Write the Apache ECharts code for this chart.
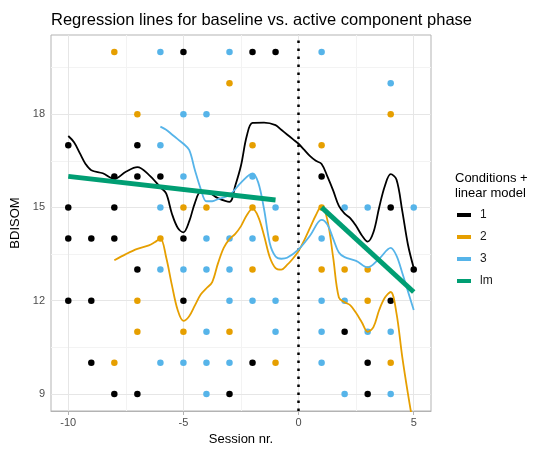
<!DOCTYPE html>
<html>
<head>
<meta charset="utf-8">
<script src="https://cdn.jsdelivr.net/npm/echarts@6/dist/echarts.min.js"></script>
<style>html,body{margin:0;padding:0;background:#fff}#c{width:540px;height:451px}</style>
</head>
<body>
<div id="c"></div>
<script>
// ---- data ----
const titleText = 'Regression lines for baseline vs. active component phase';
const xTicks = [-10, -5, 0, 5];
const yTicks = [9, 12, 15, 18];
const xMinorGrid = [-7.5, -2.5, 2.5];
const yMinorGrid = [10.5, 13.5, 16.5, 19.5];
const conditions = ['1', '2', '3'];

// observed points [session, BDISOM]
const points1 = [[-5,20],[-2,20],[-1,20],[-10,17],[-7,17],[-8,16],[-7,16],[-6,16],[1,16],
  [-10,15],[-8,15],[4,15],[-10,14],[-9,14],[-8,14],[-5,14],[-7,13],[5,13],
  [-10,12],[-9,12],[-5,12],[4,12],[2,11],[-9,10],[-2,10],[3,10],[-8,9],[-7,9],[-3,9],[3,9]];
const points2 = [[-8,20],[-3,19],[-7,18],[4,18],[-2,17],[1,17],[-5,15],[-4,15],[-2,15],[1,15],
  [-6,14],[-1,14],[-2,13],[1,13],[2,13],[3,13],[-7,12],[3,12],[-7,11],[-5,11],[-3,11],
  [-8,10],[-1,10],[4,10]];
const points3 = [[-6,20],[-3,20],[1,20],[4,19],[-5,18],[-4,18],[-6,17],[-5,16],[-2,16],
  [-6,15],[-1,15],[2,15],[3,15],[5,15],[-4,14],[-3,14],[-2,14],[1,14],
  [-6,13],[-5,13],[-4,13],[-3,13],[-3,12],[-2,12],[-1,12],[1,12],[2,12],
  [-4,11],[-1,11],[1,11],[3,11],[4,11],[-6,10],[-5,10],[-4,10],[-3,10],[1,10],
  [-4,9],[2,9],[4,9]];

// smoothed curves [session, fitted]
const smooth1 = [[-10,17.3],[-9.75,17.1],[-9.5,16.75],[-9.25,16.4],[-9,16.2],[-8.5,16.1],[-8,15.92],
  [-7.5,16.15],[-7,16.3],[-6.5,16.05],[-6,15.65],[-5.75,15.45],[-5.5,14.8],[-5.25,14.35],[-5,14.2],
  [-4.75,14.55],[-4.5,15.15],[-4.25,15.5],[-4,15.5],[-3.5,15.3],[-3,15.18],[-2.75,15.7],[-2.5,16.35],
  [-2.25,17.3],[-2,17.72],[-1.5,17.73],[-1,17.65],[-0.75,17.5],[-0.5,17.35],[-0.25,17.2],[0,17.05],
  [0.25,16.85],[0.5,16.65],[0.75,16.5],[1,16.4],[1.25,16.0],[1.5,15.55],[1.75,15.05],[2,14.8],
  [2.25,14.65],[2.5,14.4],[2.75,14.1],[3,13.9],[3.25,14.2],[3.5,15.0],[3.75,15.7],[4,16.07],
  [4.25,15.9],[4.5,14.9],[4.75,13.8],[5,13.05]];
const smooth2 = [[-8,13.3],[-7.5,13.5],[-7,13.67],[-6.5,13.78],[-6.25,13.88],[-6,14.0],[-5.75,13.4],
  [-5.5,12.5],[-5.25,11.7],[-5,11.35],[-4.75,11.5],[-4.5,11.85],[-4.25,12.2],[-4,12.4],[-3.75,12.6],
  [-3.5,13.2],[-3.25,13.7],[-3,13.98],[-2.75,14.15],[-2.5,14.4],[-2.25,14.75],[-2,14.96],[-1.75,14.7],
  [-1.5,14.1],[-1.25,13.4],[-1,13.05],[-0.75,13.0],[-0.5,13.15],[-0.25,13.35],[0,13.6],[0.25,13.95],
  [0.5,14.35],[0.75,14.75],[1,15.05],[1.25,14.6],[1.5,13.4],[1.75,12.1],[2,11.95],[2.25,11.85],
  [2.5,11.6],[2.75,11.3],[3,11.0],[3.25,11.15],[3.5,11.7],[3.75,12.1],[4,12.28],[4.25,11.6],
  [4.5,10.2],[4.75,9.0],[5,7.9]];
const smooth3 = [[-6,17.6],[-5.75,17.5],[-5.5,17.35],[-5.25,17.2],[-5,17.05],[-4.75,16.85],[-4.5,16.2],
  [-4.25,15.6],[-4,15.2],[-3.75,15.2],[-3.5,15.27],[-3,15.4],[-2.5,15.8],[-2,16.1],[-1.75,15.8],
  [-1.5,14.95],[-1.25,13.85],[-1,13.42],[-0.75,13.35],[-0.5,13.38],[0,13.65],[0.5,14.1],[1,14.6],
  [1.25,14.45],[1.5,14.0],[1.75,13.55],[2,13.4],[2.5,13.28],[3,13.07],[3.5,13.35],[4,13.7],
  [4.25,13.45],[4.5,12.9],[4.75,12.3],[5,11.7]];

// linear models per phase
const lmBaseline = [[-10,16.0],[-1,15.24]];
const lmActive = [[1,15.0],[5,12.28]];

const colors = {'1':'#000000','2':'#E69F00','3':'#56B4E9','lm':'#009E73'};

// ---- chart ----
const chart = echarts.init(document.getElementById('c'), null, {renderer:'canvas'});
const gridMark = (vals, axis, color) => vals.map(v => ({[axis]: v, lineStyle:{color, width:1, type:'solid'}}));

function scatter(name, data){
  return {name, type:'scatter', data, symbolSize:6.5, itemStyle:{color:colors[name], opacity:1}, z:3, silent:true};
}
function curve(name, data, width, z){
  return {name, type:'line', data, showSymbol:false, symbol:'none', smooth:0.35, clip:true,
    lineStyle:{color:colors[name], width}, itemStyle:{color:colors[name]}, z, silent:true};
}

const option = {
  backgroundColor:'#ffffff',
  animation:false,
  title:[
    {text:titleText, left:46, top:7, textStyle:{fontFamily:'Liberation Sans', fontSize:16.5, fontWeight:'normal', color:'#000'}},
    {text:'Conditions +\nlinear model', left:450, top:166, textStyle:{fontFamily:'Liberation Sans', fontSize:13, fontWeight:'normal', color:'#000', lineHeight:15}}
  ],
  legend:{
    orient:'vertical', left:452, top:203, itemWidth:14, itemHeight:4, itemGap:8,
    data:['1','2','3','lm'].map(n => ({name:n, icon:'rect', itemStyle:{color:colors[n]}})),
    textStyle:{fontFamily:'Liberation Sans', fontSize:12, color:'#1a1a1a', lineHeight:14, padding:[0,0,0,4]},
    selectedMode:false
  },
  grid:{left:51, right:109, top:35, bottom:33, show:true, borderColor:'#b3b3b3', borderWidth:1, backgroundColor:'#fff'},
  xAxis:{type:'value', min:-10.75, max:5.75,
    name:'Session nr.', nameLocation:'middle', nameGap:22,
    nameTextStyle:{fontFamily:'Liberation Sans', fontSize:13, color:'#000'},
    axisLine:{show:true, lineStyle:{color:'#b3b3b3'}},
    axisTick:{show:true, customValues:xTicks, length:4, lineStyle:{color:'#b3b3b3'}},
    axisLabel:{customValues:xTicks, color:'#4d4d4d', fontFamily:'Liberation Sans', fontSize:11, margin:6},
    splitLine:{show:false}},
  yAxis:{type:'value', min:8.45, max:20.55,
    name:'BDISOM', nameLocation:'middle', nameGap:20, nameRotate:90,
    nameTextStyle:{fontFamily:'Liberation Sans', fontSize:13, color:'#000'},
    axisLine:{show:true, lineStyle:{color:'#b3b3b3'}},
    axisTick:{show:true, customValues:yTicks, length:4, lineStyle:{color:'#b3b3b3'}},
    axisLabel:{customValues:yTicks, color:'#4d4d4d', fontFamily:'Liberation Sans', fontSize:11, margin:6},
    splitLine:{show:false}},
  series:[
    {name:'grid', type:'line', data:[], z:1, silent:true,
      markLine:{z:1, silent:true, symbol:'none', label:{show:false}, animation:false,
        data:[].concat(
          gridMark(xMinorGrid,'xAxis','#f3f3f3'), gridMark(yMinorGrid,'yAxis','#f3f3f3'),
          gridMark(xTicks,'xAxis','#e6e6e6'), gridMark(yTicks,'yAxis','#e6e6e6'))}},
    scatter('1', points1), scatter('2', points2), scatter('3', points3),
    {name:'zero', type:'line', data:[], z:4, silent:true,
      markLine:{z:4, silent:true, symbol:'none', label:{show:false}, animation:false,
        data:[{xAxis:0, lineStyle:{color:'#000', width:2.5, type:[2.5,5.5], cap:'butt'}}]}},
    curve('1', smooth1, 1.8, 5), curve('2', smooth2, 1.8, 5), curve('3', smooth3, 1.8, 5),
    {name:'lm', type:'line', data:lmBaseline, showSymbol:false, symbol:'none', lineStyle:{color:colors.lm, width:5}, itemStyle:{color:colors.lm}, z:6, silent:true},
    {name:'lm', type:'line', data:lmActive, showSymbol:false, symbol:'none', lineStyle:{color:colors.lm, width:5}, itemStyle:{color:colors.lm}, z:6, silent:true}
  ]
};
chart.setOption(option);
</script>
</body>
</html>
